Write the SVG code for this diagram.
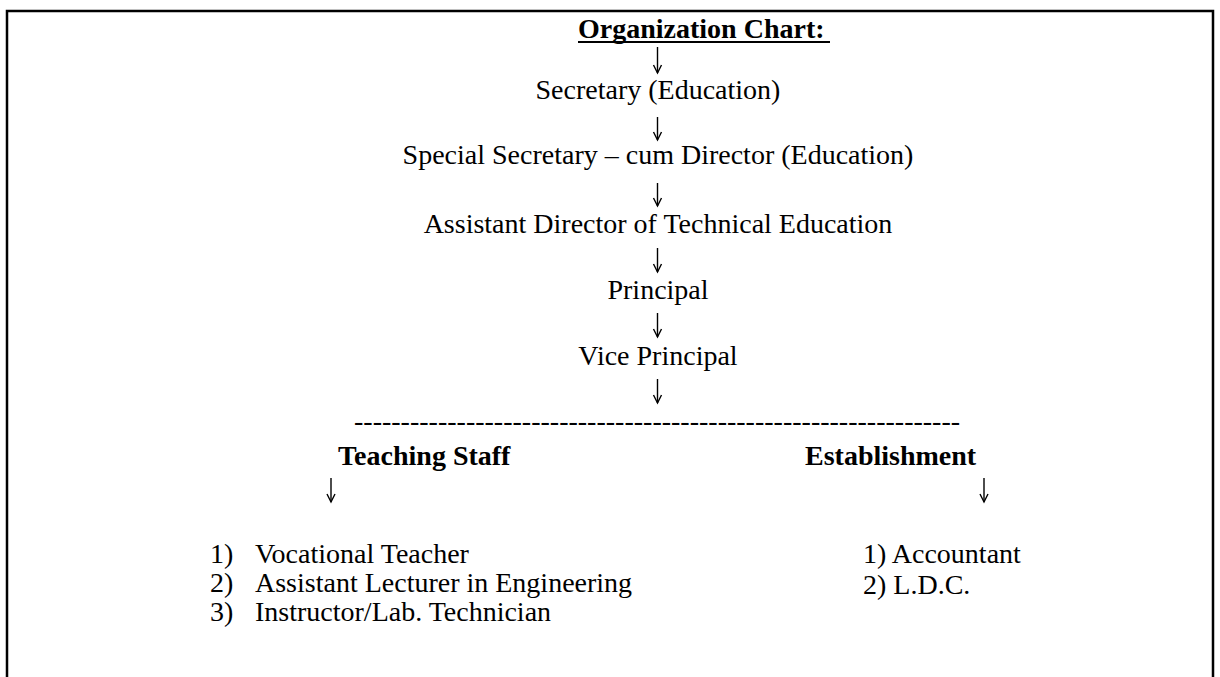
<svg xmlns="http://www.w3.org/2000/svg" width="1220" height="677" viewBox="0 0 1220 677">
  <defs>
    <style>
      text { font-family: "Liberation Serif", "Times New Roman", serif; font-size: 28px; fill: #000; }
      .c { text-anchor: middle; }
      .b { font-weight: bold; }
      .frame { fill: none; stroke: #000; stroke-width: 2.5; }
      .arrow { fill: none; stroke: #000; stroke-width: 1.4; }
      .head { fill: none; stroke: #000; stroke-width: 1.4; stroke-linejoin: miter; }
    </style>
    <marker id="down" viewBox="0 0 10 10" refX="5" refY="9" markerWidth="10" markerHeight="10" markerUnits="userSpaceOnUse" orient="auto-start-reverse">
      <path class="head" d="M1,1 L5,9 L9,1" transform="rotate(-90 5 5)"/>
    </marker>
  </defs>

  <rect width="1220" height="677" fill="#fff"/>

  <!-- open frame around the chart: left, top and right sides -->
  <path class="frame" d="M7,677 V11 H1213 V677"/>

  <!-- heading -->
  <g id="title">
    <text class="b" x="578" y="37.5">Organization Chart:</text>
    <line x1="578" y1="42" x2="830" y2="42" stroke="#000" stroke-width="2"/>
  </g>

  <!-- chain of posts -->
  <g id="secretary"><text class="c" x="658" y="99">Secretary (Education)</text></g>
  <g id="special-secretary"><text class="c" x="658" y="164">Special Secretary – cum Director (Education)</text></g>
  <g id="assistant-director"><text class="c" x="658" y="232.5">Assistant Director of Technical Education</text></g>
  <g id="principal"><text class="c" x="658" y="298.5">Principal</text></g>
  <g id="vice-principal"><text class="c" x="658" y="365">Vice Principal</text></g>

  <!-- split line -->
  <g id="split"><text x="354" y="430">-----------------------------------------------------------------</text></g>

  <!-- branches -->
  <g id="teaching-staff"><text class="b" x="338" y="465">Teaching Staff</text></g>
  <g id="establishment"><text class="b" x="805" y="465">Establishment</text></g>

  <g id="teaching-list">
    <text x="210" y="563">1)</text><text x="255" y="563">Vocational Teacher</text>
    <text x="210" y="592">2)</text><text x="255" y="592">Assistant Lecturer in Engineering</text>
    <text x="210" y="621">3)</text><text x="255" y="621">Instructor/Lab. Technician</text>
  </g>

  <g id="establishment-list">
    <text x="863" y="563">1) Accountant</text>
    <text x="863" y="594">2) L.D.C.</text>
  </g>

  <!-- downward arrows -->
  <g id="connectors">
    <g class="arrow">
      <path d="M657.5,47 V73"/>
      <path d="M657.5,117 V140"/>
      <path d="M657.5,183 V206"/>
      <path d="M657.5,248 V272"/>
      <path d="M657.5,313 V337"/>
      <path d="M657.5,379 V403"/>
      <path d="M331,478 V502"/>
      <path d="M984,478 V502"/>
    </g>
    <g class="head">
      <path d="M653.5,65 L657.5,73 L661.5,65"/>
      <path d="M653.5,132 L657.5,140 L661.5,132"/>
      <path d="M653.5,198 L657.5,206 L661.5,198"/>
      <path d="M653.5,264 L657.5,272 L661.5,264"/>
      <path d="M653.5,329 L657.5,337 L661.5,329"/>
      <path d="M653.5,395 L657.5,403 L661.5,395"/>
      <path d="M327,494 L331,502 L335,494"/>
      <path d="M980,494 L984,502 L988,494"/>
    </g>
  </g>
</svg>
